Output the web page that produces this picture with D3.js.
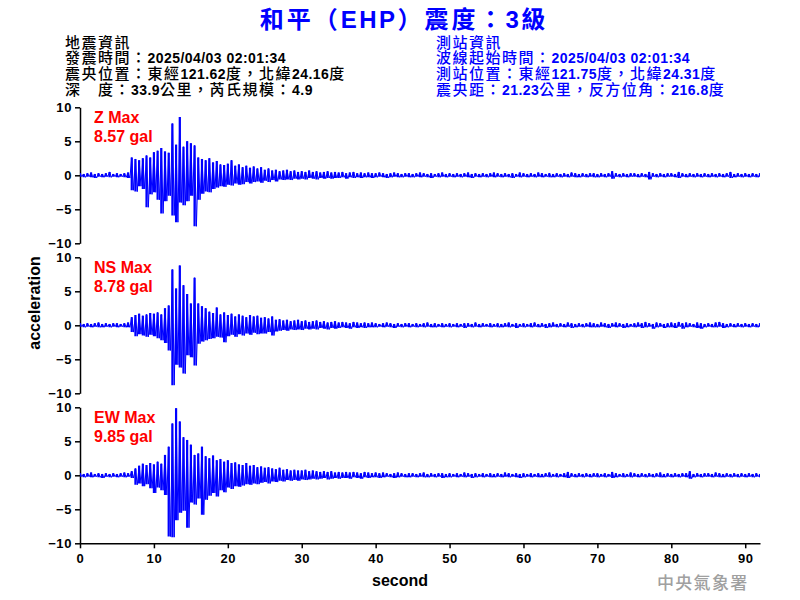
<!DOCTYPE html>
<html><head><meta charset="utf-8">
<script src="https://cdn.jsdelivr.net/npm/d3@7"></script>
<style>
body{margin:0;background:#fff}
.lat{font-family:"Liberation Sans",Arial,sans-serif}
.cjk{font-family:"Noto Sans CJK TC","Noto Sans CJK SC",sans-serif}
</style>
</head><body><svg id="c" width="800" height="600"></svg>
<script>
// ---------- texts ----------
const titleText = "和平（EHP）震度：3級";
const quakeInfo = ["地震資訊","發震時間：2025/04/03 02:01:34","震央位置：東經121.62度，北緯24.16度","深　度：33.9公里，芮氏規模：4.9"];
const stationInfo = ["測站資訊","波線起始時間：2025/04/03 02:01:34","測站位置：東經121.75度，北緯24.31度","震央距：21.23公里，反方位角：216.8度"];
const channels = ["Z","NS","EW"];
const maxValues = ["8.57","8.78","9.85"];
const yTicks = [-10,-5,0,5,10];
const xTicks = [0,10,20,30,40,50,60,70,80,90];
const xMax = 92;
const binStep = 0.5; // seconds per envelope bin (value = peak in bin)

// ---------- envelope data (peak high / peak low per 0.5 s, gal) ----------
const zHi = [0.3,0.2,0.3,0.4,0.2,0.3,0.2,0.3,0.5,0.2,
 0.3,0.2,0.3,0.4,2.6,2.4,2.2,2.5,2.9,2.6,
 3.4,3.6,4.0,3.5,3.3,7.6,4.5,8.57,4.2,5.0,
 4.7,4.4,2.6,2.4,2.2,2.5,1.9,2.1,1.6,1.5,
 1.7,2.2,1.4,1.6,1.2,1.4,1.1,1.3,1.0,1.2,
 0.8,1.0,0.7,0.8,0.6,0.7,0.8,0.6,0.7,0.5,
 0.6,0.5,0.7,0.5,0.6,0.4,0.5,0.6,0.4,0.5,
 0.4,0.5,0.3,0.4,0.5,0.3,0.4,0.3,0.4,0.3,
 0.3,0.4,0.3,0.2,0.3,0.4,0.3,0.2,0.3,0.3,
 0.2,0.3,0.4,0.3,0.2,0.3,0.2,0.3,0.4,0.2,
 0.3,0.2,0.3,0.2,0.3,0.4,0.2,0.3,0.2,0.3,
 0.2,0.3,0.4,0.3,0.2,0.3,0.2,0.3,0.2,0.4,
 0.3,0.2,0.3,0.2,0.4,0.3,0.2,0.3,0.2,0.3,
 0.2,0.3,0.2,0.4,0.3,0.2,0.3,0.2,0.3,0.3,
 0.2,0.3,0.2,0.3,0.6,0.3,0.2,0.3,0.2,0.3,
 0.3,0.2,0.3,0.2,0.5,0.3,0.2,0.3,0.2,0.3,
 0.3,0.2,0.5,0.3,0.2,0.3,0.2,0.3,0.2,0.3,
 0.2,0.3,0.2,0.3,0.2,0.3,0.5,0.2,0.3,0.2,
 0.3,0.2,0.3,0.2,0.3];
const zLo = [-0.2,-0.3,-0.2,-0.3,-0.4,-0.2,-0.3,-0.2,-0.3,-0.2,
 -0.3,-0.2,-0.3,-0.4,-2.2,-2.4,-1.6,-2.0,-4.7,-2.8,
 -2.5,-3.6,-5.6,-3.8,-3.0,-5.9,-6.9,-4.0,-4.4,-3.8,
 -3.0,-7.5,-3.6,-2.7,-2.4,-2.5,-2.0,-1.8,-1.6,-1.7,
 -1.4,-1.5,-1.2,-1.4,-1.3,-1.0,-1.2,-1.0,-0.9,-1.1,
 -0.8,-1.0,-0.7,-0.9,-0.6,-0.7,-0.6,-0.7,-0.5,-0.6,
 -0.5,-0.6,-0.4,-0.5,-0.6,-0.4,-0.5,-0.4,-0.5,-0.4,
 -0.4,-0.3,-0.5,-0.3,-0.4,-0.3,-0.4,-0.3,-0.3,-0.4,
 -0.3,-0.2,-0.3,-0.4,-0.3,-0.2,-0.3,-0.3,-0.2,-0.3,
 -0.3,-0.2,-0.3,-0.2,-0.3,-0.4,-0.2,-0.3,-0.2,-0.3,
 -0.2,-0.3,-0.2,-0.3,-0.2,-0.3,-0.4,-0.2,-0.3,-0.2,
 -0.3,-0.2,-0.3,-0.2,-0.3,-0.2,-0.3,-0.4,-0.2,-0.3,
 -0.2,-0.3,-0.2,-0.3,-0.2,-0.3,-0.2,-0.3,-0.3,-0.2,
 -0.3,-0.2,-0.3,-0.2,-0.3,-0.3,-0.2,-0.3,-0.2,-0.3,
 -0.3,-0.2,-0.3,-0.2,-0.5,-0.2,-0.3,-0.2,-0.3,-0.2,
 -0.2,-0.3,-0.2,-0.3,-0.6,-0.2,-0.3,-0.2,-0.3,-0.2,
 -0.2,-0.3,-0.4,-0.2,-0.3,-0.2,-0.3,-0.2,-0.3,-0.2,
 -0.3,-0.2,-0.3,-0.2,-0.3,-0.2,-0.4,-0.3,-0.2,-0.3,
 -0.2,-0.3,-0.2,-0.3,-0.2];
const nsHi = [0.3,0.2,0.3,0.2,0.3,0.4,0.2,0.3,0.2,0.3,
 0.3,0.2,0.3,0.4,1.2,1.5,1.7,1.4,1.6,1.8,
 1.7,1.9,1.6,2.5,2.9,8.2,5.4,8.78,5.9,4.6,
 3.2,7.0,3.2,2.8,2.5,2.0,1.8,2.6,1.6,1.9,
 1.5,1.7,1.3,1.6,1.4,1.2,1.5,1.3,1.4,1.1,
 1.2,1.0,1.3,0.8,0.9,0.7,0.8,0.6,0.7,0.8,
 0.6,0.7,0.5,0.6,0.7,0.5,0.6,0.4,0.5,0.6,
 0.4,0.5,0.4,0.3,0.5,0.4,0.3,0.4,0.3,0.4,
 0.3,0.2,0.3,0.4,0.3,0.2,0.3,0.2,0.3,0.3,
 0.2,0.3,0.2,0.3,0.4,0.2,0.3,0.2,0.3,0.2,
 0.3,0.2,0.3,0.2,0.3,0.3,0.2,0.4,0.2,0.3,
 0.2,0.3,0.2,0.3,0.2,0.3,0.4,0.2,0.3,0.2,
 0.3,0.2,0.3,0.4,0.2,0.3,0.2,0.3,0.4,0.2,
 0.3,0.2,0.4,0.3,0.2,0.3,0.2,0.3,0.4,0.3,
 0.2,0.4,0.3,0.2,0.3,0.4,0.3,0.2,0.3,0.2,
 0.3,0.4,0.3,0.5,0.3,0.2,0.4,0.3,0.2,0.3,
 0.4,0.3,0.5,0.3,0.4,0.3,0.2,0.4,0.3,0.2,
 0.3,0.2,0.4,0.5,0.3,0.2,0.3,0.2,0.3,0.2,
 0.3,0.2,0.3,0.2,0.3];
const nsLo = [-0.2,-0.3,-0.2,-0.3,-0.2,-0.3,-0.3,-0.2,-0.3,-0.2,
 -0.3,-0.2,-0.3,-0.3,-1.0,-1.6,-1.3,-1.5,-1.7,-1.4,
 -1.6,-1.9,-2.2,-2.6,-3.7,-8.8,-5.8,-6.2,-7.1,-4.4,
 -4.7,-5.9,-2.7,-2.4,-2.2,-2.0,-1.9,-1.7,-1.8,-2.5,
 -1.6,-1.4,-1.7,-1.3,-1.5,-1.2,-1.4,-1.1,-1.3,-1.2,
 -1.2,-1.0,-1.5,-0.9,-0.8,-0.7,-0.8,-0.6,-0.7,-0.6,
 -0.7,-0.5,-0.6,-0.5,-0.6,-0.4,-0.5,-0.6,-0.4,-0.5,
 -0.4,-0.3,-0.4,-0.5,-0.3,-0.4,-0.3,-0.4,-0.3,-0.3,
 -0.3,-0.2,-0.3,-0.2,-0.3,-0.4,-0.2,-0.3,-0.2,-0.3,
 -0.2,-0.3,-0.2,-0.3,-0.2,-0.3,-0.3,-0.2,-0.3,-0.2,
 -0.3,-0.2,-0.3,-0.2,-0.4,-0.2,-0.3,-0.2,-0.3,-0.2,
 -0.2,-0.3,-0.2,-0.3,-0.3,-0.2,-0.3,-0.2,-0.4,-0.2,
 -0.3,-0.2,-0.3,-0.2,-0.3,-0.2,-0.4,-0.3,-0.2,-0.3,
 -0.2,-0.3,-0.2,-0.4,-0.3,-0.2,-0.3,-0.2,-0.3,-0.3,
 -0.3,-0.2,-0.3,-0.4,-0.2,-0.3,-0.2,-0.4,-0.3,-0.2,
 -0.3,-0.2,-0.4,-0.3,-0.2,-0.5,-0.3,-0.2,-0.4,-0.3,
 -0.3,-0.4,-0.2,-0.5,-0.3,-0.2,-0.3,-0.4,-0.5,-0.3,
 -0.2,-0.3,-0.3,-0.2,-0.4,-0.3,-0.2,-0.3,-0.2,-0.3,
 -0.2,-0.3,-0.2,-0.3,-0.2];
const ewHi = [0.3,0.2,0.3,0.4,0.2,0.3,0.2,0.3,0.2,0.3,
 0.2,0.3,0.4,0.3,0.6,1.0,1.4,1.7,1.5,1.8,
 1.6,2.0,1.7,3.0,4.2,7.6,9.85,7.9,5.6,5.2,
 4.5,3.0,3.2,4.2,2.8,2.5,2.9,2.2,2.4,2.0,
 2.2,1.8,1.9,1.6,1.5,1.8,1.4,1.5,1.2,1.3,
 1.1,1.2,1.0,0.9,1.1,0.8,0.9,0.7,0.8,0.7,
 0.7,0.8,0.6,0.7,0.6,0.5,0.6,0.5,0.6,0.4,
 0.5,0.4,0.5,0.4,0.5,0.4,0.3,0.5,0.4,0.3,
 0.4,0.3,0.4,0.3,0.2,0.3,0.4,0.3,0.2,0.3,
 0.3,0.2,0.3,0.4,0.2,0.3,0.2,0.3,0.3,0.2,
 0.3,0.2,0.3,0.2,0.4,0.3,0.2,0.3,0.2,0.3,
 0.2,0.3,0.2,0.3,0.2,0.4,0.3,0.2,0.3,0.2,
 0.3,0.2,0.3,0.2,0.3,0.2,0.3,0.4,0.2,0.3,
 0.2,0.3,0.5,0.3,0.2,0.3,0.2,0.3,0.2,0.3,
 0.3,0.2,0.3,0.2,0.5,0.3,0.2,0.3,0.2,0.4,
 0.3,0.2,0.3,0.2,0.3,0.2,0.3,0.4,0.2,0.3,
 0.2,0.3,0.2,0.3,0.3,0.6,0.2,0.3,0.2,0.3,
 0.3,0.2,0.4,0.3,0.2,0.3,0.2,0.3,0.2,0.3,
 0.2,0.3,0.2,0.3,0.2];
const ewLo = [-0.2,-0.3,-0.2,-0.3,-0.2,-0.3,-0.4,-0.2,-0.3,-0.2,
 -0.3,-0.2,-0.3,-0.2,-0.4,-1.4,-1.2,-1.6,-1.3,-1.9,
 -2.6,-1.8,-2.2,-2.9,-9.0,-9.1,-6.6,-5.5,-5.2,-7.7,
 -4.0,-4.3,-3.4,-5.8,-3.6,-3.0,-2.6,-3.1,-2.2,-2.5,
 -1.8,-2.0,-1.6,-1.7,-1.5,-1.3,-1.4,-1.2,-1.3,-1.1,
 -1.0,-1.2,-0.9,-1.0,-0.8,-0.9,-0.7,-0.8,-0.7,-0.8,
 -0.6,-0.7,-0.6,-0.5,-0.6,-0.5,-0.4,-0.6,-0.5,-0.4,
 -0.5,-0.4,-0.4,-0.5,-0.3,-0.4,-0.5,-0.3,-0.4,-0.3,
 -0.3,-0.4,-0.3,-0.2,-0.3,-0.4,-0.3,-0.2,-0.3,-0.3,
 -0.2,-0.3,-0.2,-0.3,-0.3,-0.2,-0.3,-0.2,-0.4,-0.3,
 -0.3,-0.2,-0.3,-0.2,-0.3,-0.2,-0.4,-0.3,-0.2,-0.3,
 -0.2,-0.3,-0.3,-0.2,-0.3,-0.2,-0.3,-0.2,-0.3,-0.4,
 -0.3,-0.2,-0.3,-0.2,-0.3,-0.3,-0.2,-0.3,-0.2,-0.3,
 -0.2,-0.3,-0.4,-0.2,-0.3,-0.2,-0.3,-0.2,-0.3,-0.2,
 -0.3,-0.2,-0.3,-0.2,-0.4,-0.3,-0.2,-0.3,-0.2,-0.3,
 -0.2,-0.3,-0.2,-0.3,-0.2,-0.3,-0.2,-0.3,-0.3,-0.2,
 -0.3,-0.2,-0.3,-0.2,-0.3,-0.5,-0.3,-0.2,-0.3,-0.2,
 -0.2,-0.3,-0.2,-0.3,-0.3,-0.2,-0.3,-0.2,-0.3,-0.2,
 -0.3,-0.2,-0.3,-0.2,-0.3];
const highs = [zHi, nsHi, ewHi];
const lows = [zLo, nsLo, ewLo];

// ---------- layout ----------
const svg = d3.select("#c");
const blue = "#0000ff";
const left = 80, right = 760;
const panelTop = [107.3, 257.3, 407.3];
const panelH = 136;

const x = d3.scaleLinear().domain([0, xMax]).range([left, right]);

// mixed-script text: ascii runs in Latin font, others in CJK font
function mixed(g, str, px, py, o) {
  const t = g.append("text").attr("x", px).attr("y", py).attr("fill", o.fill)
    .attr("text-anchor", o.anchor || "start");
  const runs = str.match(/[\x00-\x7F]+|[^\x00-\x7F]+/g);
  runs.forEach(r => {
    const ascii = /^[\x00-\x7F]+$/.test(r);
    t.append("tspan").attr("class", ascii ? "lat" : "cjk")
      .attr("font-size", ascii ? o.latSize : o.cjkSize)
      .attr("font-weight", ascii ? o.latWeight : o.cjkWeight)
      .attr("letter-spacing", ascii ? o.latLs : o.cjkLs)
      .attr("xml:space", "preserve")
      .text(r);
  });
  return t;
}

// title
mixed(svg, titleText, 404, 28, {fill: blue, anchor: "middle", latSize: 24, cjkSize: 24,
  latWeight: "bold", cjkWeight: "bold", latLs: 2.5, cjkLs: 3});

// info blocks
const infoY = [47.5, 63.2, 78.9, 94.6];
const infoOpt = c => ({fill: c, latSize: 14, cjkSize: 15, latWeight: "bold", cjkWeight: 500, latLs: 0.45, cjkLs: 1.5});
quakeInfo.forEach((s, i) => mixed(svg, s, 65, infoY[i], infoOpt("#000")));
stationInfo.forEach((s, i) => mixed(svg, s, 436, infoY[i], infoOpt(blue)));

svg.append("clipPath").attr("id", "clip").append("rect")
  .attr("x", left).attr("y", 0).attr("width", right - left).attr("height", 600);

channels.forEach((ch, k) => {
  const y = d3.scaleLinear().domain([-10, 10]).range([panelTop[k] + panelH, panelTop[k]]);
  const ax = svg.append("g").attr("transform", `translate(${left},0)`)
    .call(d3.axisLeft(y).tickValues(yTicks).tickSize(5).tickSizeOuter(0).tickPadding(3));
  ax.select(".domain").attr("stroke", "#000").attr("stroke-width", 1.5);
  ax.selectAll(".tick line").attr("stroke", "#000").attr("stroke-width", 1.5);
  ax.selectAll(".tick text").attr("class", "lat").attr("font-size", 13).attr("font-weight", "bold")
    .attr("letter-spacing", 0.6).attr("fill", "#000");

  const g = svg.append("g").attr("clip-path", "url(#clip)");
  // vertical peak-to-peak strokes, one per bin
  g.append("path")
    .attr("d", highs[k].map((h, i) => `M${x(i * binStep)},${y(h)}V${y(lows[k][i])}`).join(""))
    .attr("fill", "none").attr("stroke", blue).attr("stroke-width", 2.2);
  // trace joining the peaks (high, then low half a bin later)
  const pts = highs[k].flatMap((h, i) => [[i * binStep, h], [i * binStep + binStep / 2, lows[k][i]]]);
  g.append("path")
    .attr("d", d3.line().x(d => x(d[0])).y(d => y(d[1]))(pts))
    .attr("fill", "none").attr("stroke", blue).attr("stroke-width", 1);

  svg.append("text").attr("class", "lat").attr("x", 94).attr("y", panelTop[k] + 16)
    .attr("fill", "#ff0000").attr("font-size", 16).attr("font-weight", "bold").text(ch + " Max");
  svg.append("text").attr("class", "lat").attr("x", 94).attr("y", panelTop[k] + 34.5)
    .attr("fill", "#ff0000").attr("font-size", 16).attr("font-weight", "bold").text(maxValues[k] + " gal");
});

// x axis
const xa = svg.append("g").attr("transform", `translate(0,${panelTop[2] + panelH})`)
  .call(d3.axisBottom(x).tickValues(xTicks).tickSize(5).tickSizeOuter(0).tickPadding(5));
xa.select(".domain").attr("stroke", "#000").attr("stroke-width", 1.5);
xa.selectAll(".tick line").attr("stroke", "#000").attr("stroke-width", 1.5);
xa.selectAll(".tick text").attr("class", "lat").attr("font-size", 13).attr("font-weight", "bold")
  .attr("letter-spacing", 0.6).attr("fill", "#000");

svg.append("text").attr("class", "lat").attr("x", 400).attr("y", 585.5).attr("text-anchor", "middle")
  .attr("font-size", 16).attr("font-weight", "bold").text("second");
svg.append("text").attr("class", "lat").attr("transform", "translate(39.5,303) rotate(-90)")
  .attr("text-anchor", "middle").attr("font-size", 16).attr("font-weight", "bold").text("acceleration");
svg.append("text").attr("class", "cjk").attr("x", 657).attr("y", 589).attr("fill", "#a0a0a0")
  .attr("font-size", 17).attr("font-weight", 500).attr("letter-spacing", 1.3).text("中央氣象署");
</script></body></html>
